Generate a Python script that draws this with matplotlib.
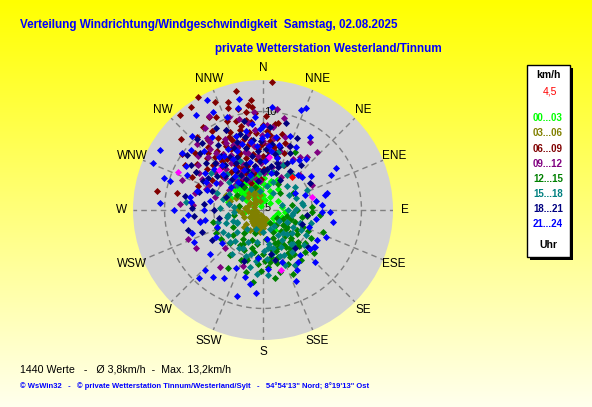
import numpy as np
import matplotlib
matplotlib.use("Agg")
import matplotlib.pyplot as plt
from matplotlib.patches import Rectangle

plt.rcParams['font.family'] = ['Liberation Sans', 'DejaVu Sans']

# wind points per 3h block: (direction deg, speed km/h)
pts_00_03 = [(330, 1.0), (335, 1.5), (340, 2.0), (345, 2.5), (350, 3.0), (325, 2.0), (320, 2.5),
             (315, 3.0), (330, 3.5), (340, 3.0), (355, 2.0), (0, 1.5), (10, 1.0), (320, 1.5),
             (310, 2.0), (300, 2.5), (290, 3.5), (283, 3.6), (305, 3.5), (335, 2.8), (345, 1.2),
             (325, 3.2), (315, 1.0), (5, 2.5), (6, 3.9), (15, 3.0), (350, 3.6), (338, 3.8),
             (328, 4.0), (100, 1.5), (110, 2.0), (120, 1.8), (95, 2.2), (219, 2.6), (200, 1.5),
             (180, 1.0), (240, 1.5), (270, 1.0), (260, 2.0), (300, 1.0), (330, 0.5), (350, 0.8),
             (20, 2.0), (30, 1.5), (45, 1.0), (130, 1.3), (335, 2.2), (342, 3.3), (318, 2.7),
             (308, 2.8), (332, 2.4), (348, 2.9), (322, 3.4), (312, 2.4), (338, 1.8), (355, 3.2),
             (326, 1.6), (331, 2.6), (336, 3.4), (341, 2.4), (346, 1.8), (351, 2.2), (356, 2.8),
             (321, 3.6), (316, 2.2), (311, 3.2), (306, 2.2), (301, 2.0), (296, 3.0), (341, 4.2),
             (346, 3.8), (1, 3.2), (11, 2.6), (25, 3.4), (35, 2.6), (60, 1.8), (80, 2.0),
             (105, 2.6), (115, 1.4), (140, 1.8), (150, 2.4), (160, 1.2)]
pts_03_06 = [(289, 4.1), (292, 4.0), (285, 3.5), (240, 1.5), (220, 1.0), (200, 1.2), (180, 1.2),
             (190, 2.0), (210, 1.8), (230, 2.2), (250, 1.0), (270, 0.8), (290, 1.0), (300, 1.5),
             (315, 1.2), (330, 1.8), (340, 2.0), (320, 2.2), (200, 0.5), (250, 2.0), (265, 1.5),
             (195, 1.5), (215, 1.3), (225, 1.6), (235, 0.8), (205, 2.2), (185, 1.6), (175, 0.8),
             (300, 2.5), (310, 2.0), (340, 1.0), (350, 1.5), (295, 3.0), (280, 2.5), (270, 2.5),
             (336, 2.0), (252, 0.6), (218, 1.7), (184, 1.5), (202, 1.1), (188, 2.3),
             (198, 1.8), (208, 1.4), (212, 2.4), (222, 1.2), (228, 2.6), (242, 1.2), (258, 1.2),
             (262, 2.2), (276, 1.8), (286, 1.6), (305, 1.0), (325, 1.4), (335, 2.6), (345, 2.2),
             (190, 1.0), (180, 1.8), (170, 1.4), (160, 1.0)]
pts_06_09 = [(4, 13.0), (330, 13.2), (325, 12.8), (319, 12.8), (342, 11.5), (354, 11.2),
             (354, 10.5), (350, 10.1), (330, 10.9), (333, 10.6), (324, 10.4), (280, 10.9),
             (281, 8.9), (300, 7.8), (319, 8.5), (313, 7.8), (328, 8.6), (337, 8.6), (344, 8.4),
             (354, 8.2), (5, 7.6), (14, 8.0), (11, 7.4), (349, 9.3), (318, 7.3), (340, 7.0),
             (345, 6.5), (335, 6.0), (350, 5.8), (355, 6.2), (0, 5.5), (5, 6.0), (10, 6.5),
             (325, 6.3), (315, 6.0), (330, 5.2), (340, 4.8), (350, 4.5), (320, 5.0), (345, 7.5),
             (338, 9.8), (352, 9.0), (2, 9.5), (8, 8.8), (336, 7.8), (310, 9.0), (305, 10.0),
             (20, 6.2), (25, 5.0), (300, 6.0), (290, 7.0), (345, 3.8), (355, 4.0), (335, 4.2),
             (346, 10.6), (355, 9.9), (332, 7.0), (342, 5.5), (326, 4.6), (358, 5.0), (2, 4.2),
             (338, 3.4), (348, 6.8), (322, 7.6), (310, 5.4), (330, 8.0), (6, 7.0), (15, 5.6),
             (320, 6.5), (325, 7.0), (330, 7.5), (335, 8.2), (340, 8.0), (345, 8.8), (350, 7.2),
             (355, 7.8), (0, 6.8), (3, 8.0), (328, 5.6), (333, 4.8), (338, 6.2), (343, 5.0),
             (348, 4.0), (353, 5.2), (358, 6.6), (312, 6.8), (316, 8.0), (306, 7.0), (322, 9.0),
             (327, 9.6), (343, 9.4), (350, 8.0), (0, 8.6), (10, 9.0), (352, 10.8), (341, 11.0),
             (336, 12.0), (347, 12.4), (318, 10.0), (311, 11.0), (300, 9.2), (295, 8.0),
             (305, 8.2), (13, 6.0), (18, 7.2), (357, 3.2), (336, 3.0), (324, 3.8)]
pts_09_12 = [(8, 10.4), (3, 8.6), (7, 8.5), (322, 9.3), (322, 8.8), (335, 7.3), (341, 7.2),
             (35, 8.4), (43, 8.0), (47, 5.2), (63, 5.6), (274, 8.4), (274, 7.1), (249, 8.2),
             (217, 7.2), (225, 5.5), (284, 7.1), (305, 8.0), (13, 9.6), (17, 7.7), (35, 6.6),
             (320, 7.5), (330, 6.5), (345, 6.0), (355, 5.5), (315, 6.8), (300, 7.5), (310, 8.6),
             (325, 10.2), (340, 10.0), (350, 9.0), (0, 7.0), (10, 6.0), (20, 5.0), (330, 4.5),
             (340, 3.5), (310, 5.0), (295, 6.0), (285, 5.0), (260, 6.5), (240, 7.8), (200, 6.0),
             (150, 6.5), (330, 11.0), (315, 9.5), (348, 7.8), (12, 4.5), (355, 3.0), (320, 3.0),
             (300, 4.0), (280, 3.5), (336, 5.2), (326, 5.8), (346, 4.2), (5, 5.2), (318, 4.0),
             (332, 8.2), (352, 6.6), (28, 3.8), (290, 8.8),
             (325, 7.0), (331, 7.8), (337, 6.8), (343, 6.2), (349, 7.0), (354, 8.2), (359, 7.6),
             (4, 6.6), (9, 7.4), (314, 7.8), (319, 8.2), (308, 6.2), (302, 5.2), (297, 7.0),
             (327, 4.0), (333, 3.4), (347, 3.2), (352, 4.2), (357, 4.8), (2, 3.8), (16, 6.2),
             (22, 7.0), (30, 6.0), (40, 7.0), (335, 9.0), (345, 9.6), (355, 10.0), (318, 5.6),
             (311, 3.8), (290, 6.2)]
pts_12_15 = [(145, 4.7), (158, 4.1), (172, 5.3), (198, 5.3), (216, 5.7), (211, 6.9), (125, 4.2),
             (132, 4.8), (92, 5.0), (127, 2.5), (120, 1.6), (156, 2.5), (196, 4.0), (249, 5.0),
             (256, 5.2), (213, 4.2), (29, 6.7), (140, 3.5), (150, 5.5), (165, 6.5), (180, 4.5),
             (135, 6.0), (110, 3.5), (100, 4.0), (115, 5.0), (160, 3.0), (175, 3.0), (190, 3.5),
             (205, 4.5), (230, 4.0), (240, 3.5), (260, 3.0), (140, 2.0), (150, 1.5), (130, 3.0),
             (120, 4.0), (105, 2.5), (80, 3.0), (60, 3.5), (45, 2.5), (30, 3.0), (340, 2.5),
             (320, 3.0), (300, 3.0), (280, 2.5), (200, 2.5), (220, 3.0), (170, 7.0), (155, 6.0),
             (145, 5.5), (135, 4.0), (125, 3.0), (168, 4.0), (185, 5.5), (195, 6.5), (175, 5.8),
             (110, 6.5), (90, 3.5), (199, 5.2), (244, 5.3), (210, 4.0), (134, 4.8), (138, 4.3),
             (86, 5.0), (150, 4.0), (162, 5.0), (128, 5.4), (118, 2.8),
             (130, 3.6), (140, 4.2), (148, 4.4), (155, 3.6), (162, 4.4), (170, 4.8), (178, 5.2),
             (186, 4.8), (192, 4.4), (204, 5.6), (150, 5.0), (143, 6.4), (135, 5.2), (120, 5.6),
             (113, 4.4), (98, 4.5), (108, 3.0), (115, 2.2), (140, 2.8), (160, 3.6), (200, 3.2),
             (215, 3.6), (225, 4.8), (235, 5.2), (182, 6.2), (165, 5.6), (155, 7.2), (188, 7.4),
             (130, 6.8), (95, 5.8)]
pts_15_18 = [(193, 5.9), (149, 3.0), (117, 2.7), (75, 2.0), (30, 2.0), (34, 4.3), (24, 5.0),
             (66, 4.9), (120, 3.5), (226, 4.7), (241, 4.6), (255, 4.7), (276, 7.9), (266, 3.0),
             (245, 2.9), (208, 4.4), (191, 3.3), (180, 2.2), (314, 3.7), (14, 6.1), (140, 4.5),
             (130, 5.5), (155, 5.0), (165, 4.0), (175, 5.0), (185, 6.5), (200, 5.0), (215, 5.5),
             (230, 3.5), (250, 4.0), (100, 3.0), (90, 2.5), (60, 3.0), (45, 3.5), (20, 3.0),
             (10, 2.5), (350, 2.0), (330, 2.5), (300, 2.5), (280, 3.5), (290, 5.0), (305, 6.5),
             (320, 6.0), (335, 5.5), (310, 4.5), (150, 6.5), (135, 3.5), (160, 2.0), (200, 2.0),
             (220, 2.5), (120, 5.0), (110, 4.0), (145, 2.0), (170, 3.5), (125, 2.0), (80, 4.0),
             (160, 5.0), (172, 3.9), (83, 4.1), (96, 3.1), (109, 4.0), (148, 3.6), (138, 3.1),
             (243, 3.0), (259, 3.7), (273, 4.4),
             (128, 3.8), (138, 4.6), (146, 5.2), (154, 4.2), (168, 4.6), (178, 4.2), (188, 5.2),
             (195, 4.6), (205, 3.6), (212, 4.6), (222, 4.2), (235, 4.4), (250, 3.2), (262, 3.6),
             (275, 3.0), (285, 4.2), (295, 3.8), (315, 5.2), (325, 4.2), (340, 3.6), (355, 3.8),
             (15, 4.0), (40, 4.6), (55, 4.0), (70, 3.6), (88, 3.4), (105, 5.0), (118, 4.4),
             (158, 6.0), (176, 6.6)]
pts_18_21 = [(317, 9.8), (306, 9.5), (255, 7.9), (250, 6.6), (272, 7.2), (96, 4.5), (129, 5.9),
             (15, 6.6), (23, 7.1), (25, 8.1), (19, 4.6), (27, 5.3), (343, 8.1), (15, 9.1),
             (314, 6.8), (320, 6.0), (330, 5.5), (340, 5.0), (350, 4.5), (0, 4.0), (10, 4.5),
             (300, 6.5), (290, 5.5), (335, 7.0), (345, 6.5), (355, 6.0), (5, 5.5), (325, 8.0),
             (310, 7.5), (280, 8.0), (265, 7.0), (240, 6.0), (200, 5.5), (170, 4.5), (140, 5.0),
             (110, 4.2), (60, 5.5), (40, 6.0), (30, 3.5), (350, 3.0), (320, 3.5), (290, 4.0),
             (260, 4.5), (335, 9.0), (5, 8.5), (166, 5.2), (328, 4.2), (342, 3.8), (312, 5.2),
             (8, 6.8), (302, 8.6),
             (322, 7.0), (328, 6.4), (334, 6.0), (339, 7.4), (346, 7.6), (352, 7.2), (358, 7.0),
             (3, 6.2), (12, 5.8), (17, 5.0), (306, 5.8), (296, 6.8), (286, 6.8), (276, 6.0),
             (270, 5.0), (315, 4.5), (325, 4.8), (332, 3.6), (338, 4.4), (348, 5.6), (357, 5.0),
             (5, 4.2), (20, 4.0), (35, 4.8), (312, 8.6), (318, 9.2), (330, 9.6), (348, 9.2),
             (25, 6.4), (300, 7.8)]
pts_21_24 = [(333, 12.5), (300, 12.1), (293, 12.1), (288, 10.6), (274, 10.5), (263, 8.2),
             (259, 6.5), (224, 8.5), (223, 9.5), (217, 8.5), (197, 9.1), (190, 7.6), (185, 8.5),
             (141, 5.9), (113, 7.0), (119, 6.3), (92, 6.8), (75, 6.7), (63, 7.8), (33, 8.8),
             (36, 6.3), (21, 10.9), (23, 11.3), (346, 10.7), (339, 10.1), (359, 7.3), (305, 10.1),
             (287, 9.9), (333, 11.2), (160, 5.6), (186, 4.9), (62, 3.7), (320, 7.0), (310, 6.5),
             (300, 5.5), (290, 6.0), (315, 8.5), (325, 9.0), (340, 8.0), (350, 7.0), (355, 6.5),
             (5, 6.5), (10, 7.5), (15, 5.5), (0, 8.5), (330, 6.0), (345, 5.0), (335, 4.5),
             (320, 4.5), (305, 4.0), (280, 5.5), (270, 6.0), (250, 5.0), (45, 5.0), (55, 6.0),
             (85, 6.0), (100, 5.5), (125, 6.5), (135, 7.5), (150, 7.0), (175, 6.0), (205, 6.5),
             (230, 7.0), (240, 5.5), (70, 4.5), (355, 9.5), (280, 7.5), (295, 8.5), (310, 9.5),
             (270, 9.0), (76, 6.5), (92, 6.0), (126, 6.4), (245, 7.7), (252, 7.6), (231, 5.3),
             (172, 3.0), (2, 5.0), (352, 4.2), (12, 3.8),
             (318, 6.2), (324, 6.8), (330, 7.2), (336, 6.6), (342, 7.0), (348, 8.2), (353, 8.8),
             (358, 8.2), (3, 7.6), (8, 6.0), (14, 6.8), (20, 8.0), (28, 7.2), (40, 6.8), (50, 5.2),
             (302, 7.0), (296, 6.4), (286, 7.0), (276, 7.4), (266, 7.6), (260, 6.0), (312, 5.4),
             (326, 5.0), (318, 3.8), (340, 3.8), (30, 5.8), (110, 5.0), (130, 6.2), (146, 6.4),
             (155, 8.0), (195, 7.0), (210, 8.0), (100, 7.2), (60, 8.6), (80, 5.5), (300, 9.0),
             (316, 10.4), (325, 11.8), (348, 11.5), (5, 10.5)]
pts_extra = [(294, 9.5), (75, 5.1), (163, 6.4), (6, 5.4), (312, 6.0)]
mean_dir, mean_spd = 41, 4.5

groups = ["00...03", "03...06", "06...09", "09...12", "12...15", "15...18", "18...21", "21...24"]
colors = ["#00FF00", "#808000", "#800000", "#800080", "#008000", "#008080", "#000080", "#0000FF"]
series = [pts_00_03, pts_03_06, pts_06_09, pts_09_12, pts_12_15, pts_15_18, pts_18_21, pts_21_24]
rmax = 13.2

W, H = 592, 407
fig = plt.figure(figsize=(W / 100, H / 100), dpi=100)

# yellow gradient background
bg = fig.add_axes([0, 0, 1, 1])
grad = np.linspace(0, 1, 256)
img = np.ones((256, 1, 3))
img[:, 0, 2] = grad * 0.93
bg.imshow(img, aspect='auto', extent=[0, 1, 0, 1], origin='upper')
bg.set_axis_off()

def fx(px):
    return px / W

def fy(py):
    return 1 - py / H

cx, cy, rad = 263, 210, 130
ax = fig.add_axes([fx(cx - rad), fy(cy + rad), 2 * rad / W, 2 * rad / H], projection='polar')
ax.set_theta_zero_location('N')
ax.set_theta_direction(-1)
ax.set_facecolor('#D3D3D3')
ax.spines['polar'].set_visible(False)
ax.set_ylim(0, rmax)
ax.set_xticks([])
ax.set_yticks([])
ax.grid(False)

# dashed grid: rings and spokes
th = np.linspace(0, 2 * np.pi, 361)
for rr in [5, 10]:
    ax.plot(th, np.full_like(th, rr), color='#808080', ls=(0, (4, 3)), lw=1)
for k in range(16):
    a = np.deg2rad(k * 22.5)
    r0 = 0 if k % 4 == 0 else 5
    ax.plot([a, a], [r0, rmax], color='#808080', ls=(0, (4, 3)), lw=1)
ax.text(np.deg2rad(4), 10.0, "10", fontsize=8, ha='center', va='center')
ax.text(np.deg2rad(68), 0.55, "5", fontsize=8, ha='center', va='center')

for pts, col in zip(series, colors):
    d = np.deg2rad([p[0] for p in pts])
    s = [p[1] for p in pts]
    ax.scatter(d, s, marker='D', s=13, color=col, linewidths=0, zorder=3, clip_on=False)
ax.scatter(np.deg2rad([p[0] for p in pts_extra]), [p[1] for p in pts_extra],
           marker='D', s=13, color='#FF00FF', linewidths=0, zorder=4)
ax.scatter([np.deg2rad(mean_dir)], [mean_spd], marker='D', s=13, color='#FF0000',
           linewidths=0, zorder=5)

dirs = ["N", "NNE", "NE", "ENE", "E", "ESE", "SE", "SSE",
        "S", "SSW", "SW", "WSW", "W", "WNW", "NW", "NNW"]
for k, lab in enumerate(dirs):
    ax.text(np.deg2rad(k * 22.5), 14.4, lab, fontsize=8.5, ha='center', va='center',
            clip_on=False)

# titles
fig.text(fx(20), fy(25), "Verteilung Windrichtung/Windgeschwindigkeit  Samstag, 02.08.2025",
         color='#0000FF', fontsize=8.4, fontweight='bold', va='center', ha='left')
fig.text(fx(215), fy(49), "private Wetterstation Westerland/Tinnum",
         color='#0000FF', fontsize=8.4, fontweight='bold', va='center', ha='left')

# legend box
fig.patches.append(Rectangle((fx(530), fy(260)), fx(43), 192 / H, transform=fig.transFigure,
                             facecolor='black', edgecolor='none', zorder=1))
fig.patches.append(Rectangle((fx(527), fy(257)), fx(43), 192 / H, transform=fig.transFigure,
                             facecolor='white', edgecolor='black', lw=1, zorder=2))
lx = fx(548)
fig.text(lx, fy(75), "km/h", fontsize=7.5, fontweight='bold', ha='center', va='center')
fig.text(lx + 0.003, fy(92), "4,5", fontsize=7.5, color='#FF0000', ha='center', va='center')
row_y = [118, 133, 149, 164, 179, 194, 209, 224]
for lab, col, yy in zip(groups, colors, row_y):
    fig.text(lx, fy(yy), lab, fontsize=7, fontweight='bold', color=col, ha='center', va='center')
fig.text(lx, fy(245), "Uhr", fontsize=7.5, fontweight='bold', ha='center', va='center')

# footer
fig.text(fx(20), fy(369), "1440 Werte   -   \u00d8 3,8km/h  -  Max. 13,2km/h",
         fontsize=7.7, ha='left', va='center')
fig.text(fx(20), fy(386),
         "\u00a9 WsWin32   -   \u00a9 private Wetterstation Tinnum/Westerland/Sylt   -   "
         "54\u00b054'13\" Nord; 8\u00b019'13\" Ost",
         fontsize=5.5, fontweight='bold', color='#0000FF', ha='left', va='center')

fig.savefig("out.png", dpi=100)
